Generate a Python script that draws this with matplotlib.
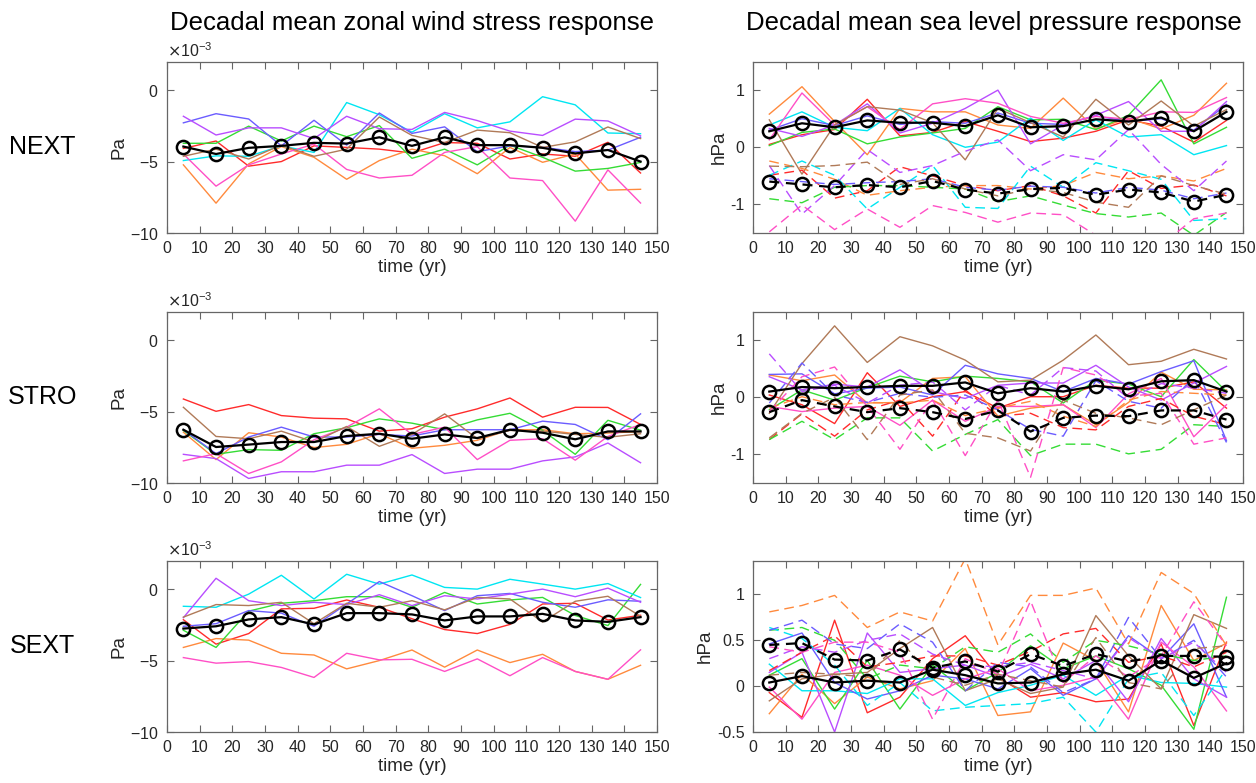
import numpy as np
import matplotlib
matplotlib.use("Agg")
import matplotlib.pyplot as plt
from matplotlib.ticker import ScalarFormatter

plt.rcParams['font.family'] = ['Liberation Sans', 'DejaVu Sans']
plt.rcParams['axes.unicode_minus'] = False

# decade centres
years = [5, 15, 25, 35, 45, 55, 65, 75, 85, 95, 105, 115, 125, 135, 145]

# member colours (red, orange, green, cyan, blue, purple, magenta, brown)
member_colors = ['#ff2b2b', '#ff8a3d', '#35dc35', '#00e6f2',
                 '#6b5cff', '#b94dff', '#ff4fc6', '#b07a58']

# --- zonal wind stress, units of 1e-3 Pa ---
next_tau = [
    [-4.08, -3.56, -5.32, -5.0, -3.9, -4.01, -4.13, -4.4, -3.67, -3.72, -4.82, -4.47, -4.63, -3.65, -5.8],
    [-5.23, -7.91, -5.16, -3.95, -4.7, -6.24, -4.93, -4.13, -4.59, -5.85, -4.01, -5.05, -4.47, -7.0, -6.94],
    [-3.72, -3.72, -2.52, -3.56, -2.52, -3.26, -2.48, -4.77, -4.13, -5.23, -3.85, -4.7, -5.67, -5.48, -5.06],
    [-4.93, -4.6, -4.63, -3.9, -4.36, -0.87, -1.72, -2.94, -1.65, -2.64, -2.22, -0.46, -1.03, -3.0, -3.05],
    [-2.29, -1.65, -2.02, -3.9, -2.11, -3.85, -1.6, -3.03, -2.57, -4.31, -3.9, -4.0, -4.3, -4.2, -3.3],
    [-1.83, -3.14, -2.64, -2.64, -3.39, -1.83, -2.7, -2.75, -1.56, -2.13, -2.87, -3.17, -2.03, -2.16, -3.2],
    [-4.47, -6.72, -5.23, -4.47, -3.78, -5.55, -6.15, -5.96, -4.36, -3.95, -6.15, -6.33, -9.17, -5.58, -7.9],
    [-4.63, -4.13, -4.82, -3.85, -4.63, -4.13, -1.88, -3.17, -3.67, -2.8, -2.98, -4.01, -3.62, -2.58, -3.39],
]
next_tau_mean = [-3.95, -4.47, -4.04, -3.9, -3.69, -3.74, -3.3, -3.9, -3.3, -3.85, -3.85, -4.04, -4.43, -4.19, -5.0]

stro_tau = [
    [-4.12, -4.98, -4.51, -5.28, -5.46, -5.51, -6.37, -6.2, -5.39, -4.81, -4.05, -5.39, -4.7, -4.71, -5.9],
    [-6.44, -8.36, -6.48, -6.78, -7.52, -7.29, -6.55, -7.57, -7.36, -7.01, -6.27, -6.27, -6.55, -6.5, -6.4],
    [-6.32, -7.99, -7.66, -7.71, -6.55, -6.13, -5.51, -5.81, -6.27, -5.58, -5.12, -6.32, -7.99, -5.61, -6.3],
    None,
    [-6.27, -7.94, -6.78, -6.09, -6.78, -6.78, -6.6, -6.71, -6.27, -6.27, -6.27, -5.67, -5.9, -6.97, -5.16],
    [-7.99, -8.29, -9.68, -9.21, -9.21, -8.75, -8.75, -8.01, -9.33, -9.03, -9.03, -8.45, -8.17, -7.2, -8.58],
    [-8.45, -7.94, -9.33, -8.52, -6.97, -6.09, -4.81, -6.6, -6.09, -8.36, -7.01, -6.9, -8.4, -6.74, -5.9],
    [-4.7, -6.74, -6.9, -6.37, -7.13, -6.04, -7.43, -6.6, -5.16, -6.9, -6.32, -6.37, -6.6, -6.8, -6.55],
]
stro_tau_mean = [-6.27, -7.48, -7.31, -7.13, -7.13, -6.71, -6.55, -6.9, -6.6, -6.85, -6.27, -6.48, -6.94, -6.39, -6.39]

sext_tau = [
    [-2.14, -3.85, -3.11, -1.38, -1.34, -0.76, -1.27, -2.07, -2.83, -3.11, -2.47, -1.04, -0.99, -2.16, -1.83],
    [-4.08, -3.46, -3.57, -4.49, -4.61, -5.58, -5.0, -4.26, -5.46, -4.26, -5.14, -4.56, -5.76, -6.31, -5.33],
    [-2.88, -4.08, -1.54, -0.99, -0.81, -0.53, -0.53, -1.27, -0.23, -1.04, -0.76, -0.58, -1.84, -2.55, 0.33],
    [-1.2, -1.27, -0.35, 0.97, -0.69, 1.04, 0.35, 0.99, 0.12, 0.0, 0.69, 0.35, 0.0, 0.39, -0.59],
    [-2.6, -2.42, -1.5, -1.68, -2.6, -1.04, 0.53, -0.46, -1.5, -0.46, -0.3, -0.92, -1.27, -0.75, -0.85],
    [-2.0, 0.76, -0.81, -1.15, -0.92, -1.08, -0.39, -1.15, -0.46, -0.69, -0.35, 0.0, -0.53, 0.07, -0.92],
    [-4.79, -5.18, -5.07, -5.48, -6.18, -4.49, -4.95, -4.91, -5.76, -4.88, -6.06, -4.79, -5.76, -6.31, -4.25],
    [-1.96, -1.08, -1.15, -0.92, -2.42, -0.99, -1.27, -0.81, -1.45, -0.58, -0.69, -2.3, -0.85, -0.5, -1.9],
]
sext_tau_mean = [-2.76, -2.6, -2.12, -1.96, -2.47, -1.68, -1.68, -1.77, -2.19, -1.91, -1.91, -1.73, -2.19, -2.29, -1.96]

# --- sea level pressure, hPa (solid and dashed members) ---
next_slp_solid = [
    [0.05, 0.22, 0.31, 0.84, 0.2, 0.26, 0.45, 0.28, 0.1, 0.16, 0.28, 0.48, 0.37, 0.09, 0.47],
    [0.58, 1.06, 0.45, -0.13, 0.68, 0.62, 0.62, 0.39, 0.33, 0.86, 0.32, 0.51, 0.32, 0.56, 1.12],
    [0.03, 0.26, 0.32, 0.06, 0.18, 0.25, 0.33, 0.71, 0.48, 0.49, 0.31, 0.56, 1.18, 0.06, 0.35],
    [0.39, 0.62, 0.35, 0.29, 0.68, 0.22, 0.0, 0.09, 0.51, 0.12, 0.48, 0.18, 0.22, -0.13, 0.03],
    [0.3, 0.5, 0.38, 0.55, 0.4, 0.45, 0.42, 0.6, 0.42, 0.4, 0.55, 0.45, 0.5, 0.3, 0.75],
    [0.33, 0.19, 0.39, 0.76, 0.25, 0.42, 0.68, 1.0, 0.06, 0.39, 0.56, 0.8, 0.28, 0.28, 0.8],
    [0.13, 0.95, 0.39, 0.71, 0.31, 0.76, 0.85, 0.77, 0.54, 0.42, 0.54, 0.49, 0.62, 0.61, 0.87],
    [0.48, -0.47, 0.39, 0.71, 0.65, 0.43, -0.22, 0.68, 0.43, 0.18, 0.84, 0.39, 0.81, 0.37, 0.66],
]
next_slp_dashed = [
    [-0.49, -0.4, -0.89, -0.76, -0.34, -0.5, -0.67, -0.76, -0.67, -0.85, -1.15, -0.41, -0.72, -0.66, -0.85],
    [-0.24, -0.37, -0.56, -0.84, -0.76, -0.7, -0.67, -0.67, -0.73, -0.67, -0.44, -0.55, -0.5, -0.59, -0.37],
    [-0.9, -0.97, -0.7, -0.67, -0.67, -0.7, -0.73, -0.95, -0.85, -1.01, -1.16, -1.22, -1.15, -1.54, -1.14],
    [-0.49, -0.24, -0.49, -1.08, -0.7, -0.32, -1.05, -1.07, -0.33, -0.7, -0.27, -0.41, -0.56, -1.28, -1.25],
    [-0.55, -0.6, -0.65, -0.62, -0.6, -0.55, -0.7, -0.75, -0.68, -0.7, -0.8, -0.7, -0.75, -0.9, -0.8],
    [-0.32, -1.17, -0.67, -0.04, -0.44, -0.32, -0.07, 0.13, -0.41, -0.13, -0.22, 0.31, -0.3, -0.76, -0.24],
    [-1.48, -1.01, -1.44, -1.08, -1.4, -1.02, -1.14, -1.31, -1.15, -1.18, -1.54, -1.65, -1.71, -1.25, -1.15],
    [-0.33, -0.34, -0.32, -0.26, -0.65, -0.55, -0.73, -0.85, -0.73, -0.79, -0.96, -1.05, -0.5, -0.67, -0.82],
]
next_slp_mean_solid = [0.28, 0.42, 0.35, 0.47, 0.43, 0.43, 0.37, 0.56, 0.35, 0.37, 0.49, 0.45, 0.52, 0.28, 0.62]
next_slp_mean_dashed = [-0.6, -0.65, -0.7, -0.66, -0.7, -0.59, -0.74, -0.81, -0.73, -0.71, -0.83, -0.74, -0.79, -0.95, -0.83]

stro_slp_solid = [
    [0.04, -0.13, -0.46, 0.43, -0.16, 0.01, 0.1, -0.19, 0.01, 0.01, 0.21, 0.16, 0.16, 0.27, -0.19],
    [0.39, 0.29, 0.39, -0.1, -0.09, 0.33, 0.36, -0.33, -0.19, -0.13, -0.48, -0.09, 0.44, 0.14, 0.13],
    [-0.22, 0.13, -0.05, 0.17, 0.37, 0.27, 0.37, 0.33, 0.27, -0.1, 0.3, 0.23, 0.01, 0.66, 0.1],
    None,
    [0.4, 0.41, 0.06, 0.16, 0.18, 0.04, 0.56, 0.41, 0.33, 0.1, 0.33, 0.23, 0.45, 0.64, -0.76],
    [0.36, 0.13, 0.23, 0.18, 0.48, 0.1, -0.02, 0.21, 0.25, 0.25, 0.56, 0.18, -0.05, 0.25, 0.54],
    [-0.16, -0.25, -0.19, -0.16, -0.49, -0.05, -0.42, -0.16, -0.16, -0.13, -0.53, 0.06, 0.33, -0.69, -0.13],
    [-0.28, 0.59, 1.25, 0.61, 1.06, 0.9, 0.65, 0.27, 0.3, 0.65, 1.09, 0.57, 0.63, 0.84, 0.67],
]
stro_slp_dashed = [
    [-0.74, -0.29, -0.68, -0.22, -0.05, -0.68, 0.13, -0.33, -0.28, -0.53, -0.57, -0.16, -0.02, -0.33, -0.48],
    [-0.19, 0.01, -0.13, -0.09, -0.1, -0.05, -0.32, -0.19, -0.07, -0.33, -0.51, -0.05, 0.1, 0.07, 0.04],
    [-0.74, -0.42, -0.74, -0.36, -0.36, -0.94, -0.65, -0.39, -1.02, -0.82, -0.82, -0.99, -0.91, -0.48, -0.51],
    None,
    [-0.1, 0.6, 0.04, -0.09, 0.07, 0.0, 0.04, -0.22, -0.56, -0.68, 0.29, -0.07, -0.19, 0.33, -0.79],
    [0.76, 0.1, 0.21, -0.1, 0.21, 0.27, -0.22, 0.21, 0.04, 0.52, 0.46, -0.02, 0.24, 0.16, 0.07],
    [-0.25, 0.36, 0.53, -0.16, -0.91, -0.05, -1.02, -0.05, -1.4, 0.52, 0.39, 0.02, 0.07, -0.82, -0.71],
    [-0.71, -0.28, 0.0, -0.74, 0.04, 0.13, -0.63, -0.71, -0.94, -0.05, -0.28, -0.36, -0.48, -0.22, 0.04],
]
stro_slp_mean_solid = [0.1, 0.18, 0.16, 0.18, 0.2, 0.2, 0.26, 0.07, 0.16, 0.1, 0.2, 0.14, 0.28, 0.3, 0.1]
stro_slp_mean_dashed = [-0.26, -0.05, -0.16, -0.26, -0.19, -0.26, -0.38, -0.23, -0.6, -0.36, -0.32, -0.33, -0.23, -0.23, -0.39]

sext_slp_solid = [
    [-0.07, -0.34, 0.72, -0.29, -0.12, 0.3, 0.55, 0.1, -0.12, -0.07, -0.17, -0.14, 0.46, -0.43, 0.48],
    [-0.3, 0.13, -0.19, 0.1, -0.03, 0.06, 0.41, -0.32, -0.28, 0.47, 0.28, -0.28, 0.88, 0.28, 0.47],
    [0.12, 0.3, -0.25, 0.28, -0.25, 0.23, -0.05, 0.15, 0.44, 0.19, 0.33, 0.19, 0.01, -0.47, 0.97],
    [0.24, -0.05, -0.05, -0.08, 0.08, 0.08, -0.21, -0.07, 0.01, 0.12, -0.1, 0.12, 0.04, 0.03, -0.01],
    [0.46, 0.58, 0.04, -0.14, -0.05, 0.12, 0.08, -0.03, 0.19, -0.1, 0.08, 0.55, 0.3, 0.68, -0.12],
    [0.15, 0.37, -0.5, 0.58, 0.15, 0.19, 0.23, 0.1, 0.24, 0.08, 0.28, -0.17, 0.52, 0.08, -0.12],
    [-0.01, -0.36, 0.15, 0.23, 0.12, -0.1, 0.08, 0.19, -0.05, 0.01, 0.1, -0.36, 0.48, 0.21, -0.27],
    [-0.16, 0.08, 0.13, 0.15, 0.41, 0.64, -0.05, 0.08, -0.08, -0.01, 0.77, 0.33, -0.03, 0.78, 0.63],
]
sext_slp_dashed = [
    [0.17, 0.37, 0.55, 0.21, 0.26, 0.33, 0.33, 0.23, 0.38, 0.57, 0.63, 0.26, 0.33, 0.21, 0.37],
    [0.81, 0.88, 0.99, 0.64, 0.81, 0.71, 1.39, 0.45, 0.99, 0.99, 1.07, 0.46, 1.24, 1.01, 0.44],
    [0.61, 0.64, 0.5, 0.08, 0.23, 0.19, 0.43, 0.37, 0.57, 0.26, 0.5, 0.44, 0.35, 0.28, 0.33],
    [0.64, 0.52, 0.23, -0.21, 0.04, -0.27, -0.23, -0.21, -0.19, -0.12, -0.5, 0.08, 0.15, -0.32, 0.19],
    [0.61, 0.72, 0.46, 0.41, 0.68, 0.48, -0.05, 0.26, 0.21, -0.07, 0.08, 0.75, 0.3, 0.5, 0.1],
    [0.3, 0.43, 0.37, 0.5, 0.57, 0.35, 0.23, 0.21, 0.26, 0.17, 0.08, 0.53, 0.3, 0.48, 0.15],
    [0.43, 0.37, 0.48, 0.48, 0.37, -0.36, 0.3, 0.13, 0.93, 0.04, 0.33, 0.1, 0.33, 0.92, 0.44],
    [0.12, 0.15, 0.13, 0.1, 0.5, 0.1, 0.01, 0.13, 0.06, -0.01, 0.53, 0.04, -0.03, 0.41, 0.44],
]
sext_slp_mean_solid = [0.04, 0.11, 0.04, 0.06, 0.04, 0.18, 0.12, 0.03, 0.04, 0.13, 0.18, 0.06, 0.28, 0.09, 0.25]
sext_slp_mean_dashed = [0.45, 0.47, 0.29, 0.28, 0.4, 0.2, 0.27, 0.16, 0.35, 0.22, 0.35, 0.27, 0.33, 0.33, 0.32]

row_names = ['NEXT', 'STRO', 'SEXT']

AX_COL = '0.4'
TXT_COL = '0.15'
DASH = (0, (7, 4))
BLACK_DASH = (0, (4.5, 3))

fig = plt.figure(figsize=(12.56, 7.83), dpi=100)

left_x, right_x, w = 0.133, 0.5995, 0.390
rows_y = [0.7024, 0.3831, 0.0651]
h = 0.219


def style_axes(ax):
    ax.set_xlim(0, 150)
    ax.set_xticks(range(0, 151, 10))
    ax.tick_params(direction='in', top=True, right=True, length=5, width=0.8,
                   color=AX_COL, labelcolor=TXT_COL, labelsize=11.5, pad=6)
    for s in ax.spines.values():
        s.set_color(AX_COL)
        s.set_linewidth(0.9)
    ax.set_xlabel('time (yr)', fontsize=13.5, color=TXT_COL, labelpad=2)


def draw_members(ax, data, scale=1.0, ls='-'):
    for col, vals in zip(member_colors, data):
        if vals is None:
            continue
        ax.plot(years, np.array(vals) * scale, color=col, lw=1.0, ls=ls)


def draw_mean(ax, vals, scale=1.0, ls='-'):
    ax.plot(years, np.array(vals) * scale, color='black', lw=1.6, ls=ls,
            marker='o', markersize=9.5, markerfacecolor='none',
            markeredgewidth=1.8, markeredgecolor='black')


tau_sets = [(next_tau, next_tau_mean), (stro_tau, stro_tau_mean), (sext_tau, sext_tau_mean)]
slp_sets = [
    (next_slp_solid, next_slp_dashed, next_slp_mean_solid, next_slp_mean_dashed, (-1.5, 1.5), [-1, 0, 1]),
    (stro_slp_solid, stro_slp_dashed, stro_slp_mean_solid, stro_slp_mean_dashed, (-1.5, 1.5), [-1, 0, 1]),
    (sext_slp_solid, sext_slp_dashed, sext_slp_mean_solid, sext_slp_mean_dashed, (-0.5, 1.37), [-0.5, 0, 0.5, 1]),
]

for i in range(3):
    # wind stress
    ax = fig.add_axes([left_x, rows_y[i], w, h])
    members, mean = tau_sets[i]
    draw_members(ax, members, 1e-3)
    draw_mean(ax, mean, 1e-3)
    style_axes(ax)
    ax.set_ylim(-10e-3, 2e-3)
    ax.set_yticks([-10e-3, -5e-3, 0])
    fmt = ScalarFormatter(useMathText=True)
    fmt.set_powerlimits((-3, -3))
    ax.yaxis.set_major_formatter(fmt)
    ax.yaxis.get_offset_text().set_fontsize(11.5)
    ax.yaxis.get_offset_text().set_color(TXT_COL)
    ax.set_ylabel('Pa', fontsize=13.5, color=TXT_COL, labelpad=2)

    fig.text(0.034, rows_y[i] + h * 0.5, row_names[i], fontsize=18,
             ha='center', va='center', color='black')

    # sea level pressure
    ax2 = fig.add_axes([right_x, rows_y[i], w, h])
    solid, dashed, m_solid, m_dashed, ylim, yt = slp_sets[i]
    draw_members(ax2, solid)
    draw_members(ax2, dashed, ls=DASH)
    draw_mean(ax2, m_solid)
    draw_mean(ax2, m_dashed, ls=BLACK_DASH)
    style_axes(ax2)
    ax2.set_ylim(*ylim)
    ax2.set_yticks(yt)
    ax2.set_yticklabels([('%g' % v) for v in yt])
    ax2.set_ylabel('hPa', fontsize=13.5, color=TXT_COL, labelpad=2)

fig.text(0.328, 0.970, 'Decadal mean zonal wind stress response', fontsize=18.5,
         ha='center', va='center')
fig.text(0.791, 0.970, 'Decadal mean sea level pressure response', fontsize=18.5,
         ha='center', va='center')

fig.savefig('out.png', dpi=100)
